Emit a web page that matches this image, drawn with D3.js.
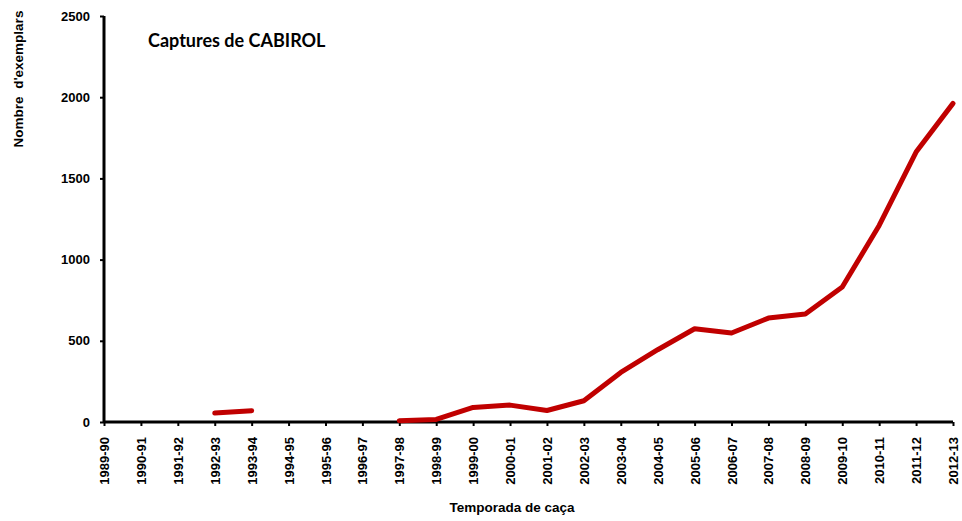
<!DOCTYPE html>
<html>
<head>
<meta charset="utf-8">
<script src="https://cdn.jsdelivr.net/npm/d3@7"></script>
<style>
  body { margin: 0; background: #fff; }
  text { font-weight: bold; }
</style>
</head>
<body>
<div id="viz"></div>
<script>
const seasons = ["1989-90", "1990-91", "1991-92", "1992-93", "1993-94", "1994-95", "1995-96",
    "1996-97", "1997-98", "1998-99", "1999-00", "2000-01", "2001-02", "2002-03", "2003-04",
    "2004-05", "2005-06", "2006-07", "2007-08", "2008-09", "2009-10", "2010-11", "2011-12", "2012-13"];
// null = no data for that season
const captures = [null, null, null, 55, 70, null, null,
    null, 8, 16, 90, 104, 71, 131, 305,
    445, 574, 548, 640, 665, 831, 1210, 1662, 1962];
const yTicks = [0, 500, 1000, 1500, 2000, 2500];

const W = 962, H = 521;
const margin = { left: 104, right: 9, top: 16, bottom: 99 };
const innerW = W - margin.left - margin.right;
const innerH = H - margin.top - margin.bottom;
const sans = "'Liberation Sans', Arial, sans-serif";

const svg = d3.select("#viz").append("svg").attr("width", W).attr("height", H)
    .style("font-family", sans);
const g = svg.append("g").attr("transform", `translate(${margin.left},${margin.top})`);

const x = d3.scalePoint().domain(seasons).range([0, innerW]);
const y = d3.scaleLinear().domain([0, 2500]).range([innerH, 0]);

// y axis
const ay = g.append("g").call(d3.axisLeft(y).tickValues(yTicks).tickFormat(d3.format("d"))
    .tickSize(4).tickPadding(10));
ay.attr("font-family", sans);
ay.select(".domain").attr("stroke-width", 3).attr("d", `M0,${innerH}V0`);
ay.selectAll(".tick line").attr("stroke-width", 2);
ay.selectAll("text").attr("font-size", 13).attr("fill", "#000");

// x axis
const ax = g.append("g").attr("transform", `translate(0,${innerH})`)
    .call(d3.axisBottom(x).tickSize(4).tickPadding(0));
ax.attr("font-family", sans);
ax.select(".domain").attr("stroke-width", 3).attr("d", `M0,0H${innerW}`);
ax.selectAll(".tick line").attr("stroke-width", 2);
ax.selectAll("text")
    .attr("font-size", 13).attr("fill", "#000")
    .attr("text-anchor", "end")
    .attr("dy", "0.35em")
    .attr("transform", "translate(0,15) rotate(-90)")
    .attr("x", 0).attr("y", 0);

// line, with gaps where data is missing
const line = d3.line()
    .defined(d => d != null)
    .x((d, i) => x(seasons[i]))
    .y(d => y(d));

g.append("path")
    .datum(captures)
    .attr("fill", "none")
    .attr("stroke", "#C00000")
    .attr("stroke-width", 5)
    .attr("stroke-linecap", "round")
    .attr("stroke-linejoin", "round")
    .attr("d", line);

// titles
svg.append("text")
    .attr("x", 148).attr("y", 47)
    .style("font-family", "Lato, 'Open Sans', sans-serif")
    .attr("font-size", 18)
    .text("Captures de CABIROL");

svg.append("text")
    .attr("transform", "translate(23,79) rotate(-90)")
    .attr("text-anchor", "middle")
    .attr("font-size", 13.5)
    .text("Nombre  d'exemplars")
    .style("white-space", "pre");

svg.append("text")
    .attr("x", 512).attr("y", 512)
    .attr("text-anchor", "middle")
    .attr("font-size", 13.5)
    .text("Temporada de caça");
</script>
</body>
</html>
